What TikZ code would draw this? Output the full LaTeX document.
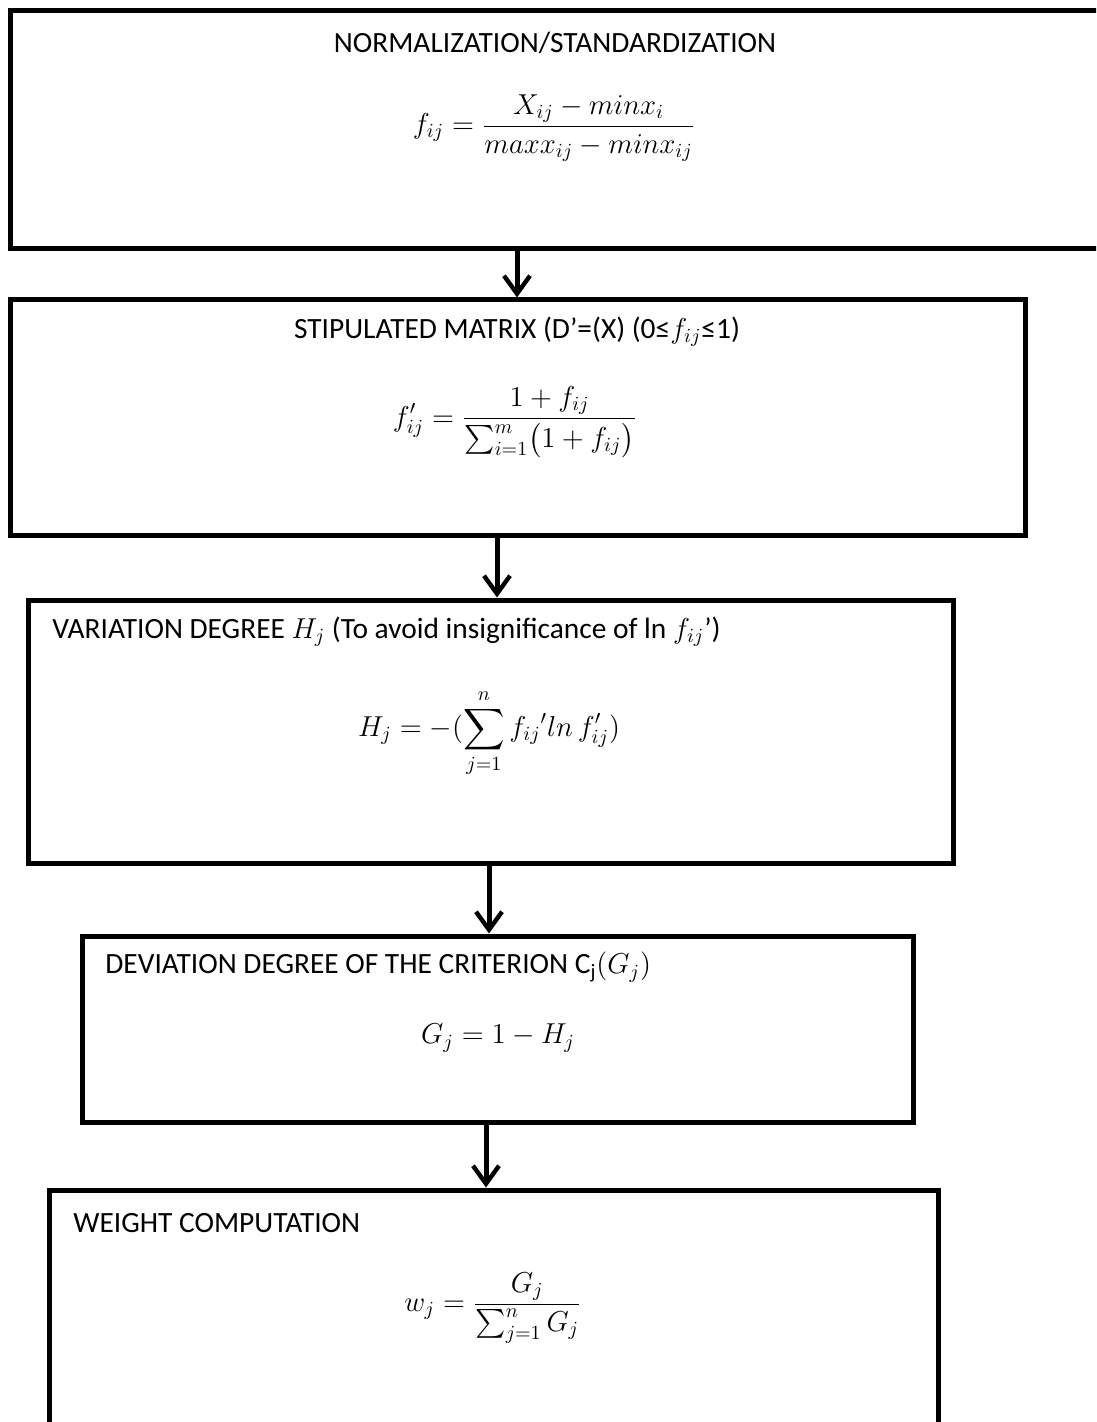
\documentclass[tikz,border=0pt]{standalone}
\usepackage{amsmath}
\usepackage{fontspec}
\setmainfont{Carlito}
\usetikzlibrary{arrows.meta}

\begin{document}
\begin{tikzpicture}[x=0.5pt,y=-0.5pt,
  etape/.style={draw, line width=2.5pt, inner sep=0pt},
  titre/.style={inner sep=0pt, font=\fontsize{14.7}{17}\selectfont},
  formule/.style={inner sep=0pt, font=\fontsize{14}{17}\selectfont},
  fleche/.style={line width=2.5pt, -{Straight Barb[length=9pt,width=13pt,line width=2.2pt]}}]
\clip (0,0) rectangle (1096,1422);

\node [etape, minimum width=547.5pt, minimum height=119pt] (b1) at (557.5,130) {};
\node [etape, minimum width=507.5pt, minimum height=117.5pt] (b2) at (517.5,417.5) {};
\node [etape, minimum width=462.5pt, minimum height=131.5pt] (b3) at (490.5,731.5) {};
\node [etape, minimum width=415.5pt, minimum height=93pt] (b4) at (497.5,1029) {};
\node [etape, minimum width=444.5pt, minimum height=125pt] (b5) at (493.5,1315) {};

\node [titre] (t1) at (555,43) {NORMALIZATION/STANDARDIZATION};
\node [formule] (f1) at (554,128) {$\displaystyle f_{ij}=\frac{X_{ij}-minx_i}{maxx_{ij}-minx_{ij}}$};

\node [titre] (t2) at (517,332) {STIPULATED MATRIX (D’=(X) (0≤$f_{ij}$≤1)};
\node [formule] (f2) at (515,422) {$\displaystyle f'_{ij}=\frac{1+f_{ij}}{\sum\nolimits_{i=1}^{m}\bigl(1+f_{ij}\bigr)}$};

\node [titre, anchor=west] (t3) at (52,632) {VARIATION DEGREE $H_j$ (To avoid insignificance of ln $f_{ij}$’)};
\node [formule] (f3) at (489,733) {$\displaystyle H_j=-(\sum_{j=1}^{n}f_{ij}{}'ln\,f'_{ij})$};

\node [titre, anchor=west] (t4) at (105,967) {DEVIATION DEGREE OF THE CRITERION C\textsubscript{j}$(G_j)$};
\node [formule] (f4) at (498,1038) {$G_j=1-H_j$};

\node [titre, anchor=west] (t5) at (73,1223) {WEIGHT COMPUTATION};
\node [formule] (f5) at (493,1308) {$\displaystyle w_j=\frac{G_j}{\sum\nolimits_{j=1}^{n}G_j}$};

% liaisons
\coordinate (a1) at (517,0);
\coordinate (a2) at (497,0);
\coordinate (a3) at (489,0);
\coordinate (a4) at (486,0);
\draw [fleche] (b1.south -| a1) -- (b2.north -| a1);
\draw [fleche] (b2.south -| a2) -- (b3.north -| a2);
\draw [fleche] (b3.south -| a3) -- (b4.north -| a3);
\draw [fleche] (b4.south -| a4) -- (b5.north -| a4);

\end{tikzpicture}
\end{document}
